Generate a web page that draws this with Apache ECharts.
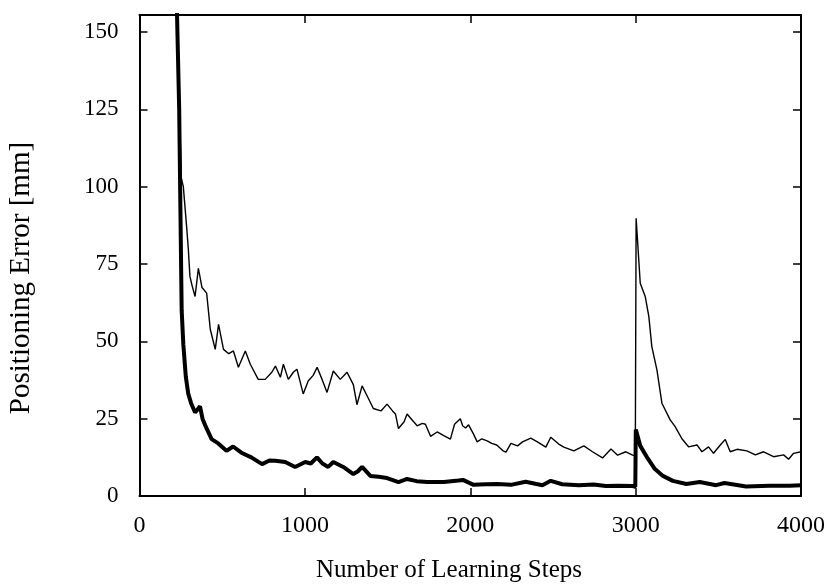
<!DOCTYPE html>
<html>
<head>
<meta charset="utf-8">
<title>Positioning Error</title>
<script src="https://cdn.jsdelivr.net/npm/echarts@6/dist/echarts.min.js"></script>
<style>
    html, body { margin: 0; padding: 0; background: #fff; }
    #chart { width: 828px; height: 585px; }
</style>
</head>
<body>
<div id="chart"></div>
<script>
    // learning steps / error [mm], thin curve
    var thinSteps = [225, 240, 252, 265, 285, 295, 305, 318, 336, 356, 378, 406, 428, 458, 478, 508, 540, 568, 598, 640, 670, 718, 760, 800, 822, 852, 870, 900, 930, 952, 990, 1020, 1050, 1074, 1104, 1134, 1172, 1214, 1255, 1293, 1315, 1346, 1376, 1414, 1460, 1497, 1530, 1548, 1566, 1600, 1618, 1650, 1679, 1710, 1729, 1760, 1800, 1840, 1880, 1905, 1940, 1954, 1972, 1990, 2020, 2042, 2070, 2102, 2130, 2160, 2198, 2216, 2246, 2286, 2316, 2366, 2406, 2457, 2487, 2535, 2566, 2626, 2687, 2739, 2800, 2851, 2891, 2941, 2982, 2998, 3003, 3028, 3058, 3080, 3098, 3129, 3159, 3209, 3239, 3280, 3320, 3371, 3401, 3441, 3471, 3512, 3542, 3572, 3613, 3673, 3724, 3774, 3834, 3895, 3925, 3955, 4000];
    var thinValues = [160, 130, 103, 100, 87, 80, 71, 68, 64.5, 73.6, 67.4, 65.6, 53.9, 47.4, 55.5, 47.4, 46, 46.9, 41.6, 46.9, 42.6, 37.7, 37.7, 40, 42, 38.4, 42.6, 37.7, 40, 41, 33, 37.2, 39, 41.6, 37.7, 33.5, 40.4, 37.7, 40, 36, 29.5, 35.6, 32.4, 28.3, 27.5, 29.7, 27.5, 26.5, 21.8, 24, 26.5, 24.5, 22.7, 23.5, 23.2, 19.3, 20.7, 19.5, 18.4, 23.2, 25, 22.7, 22, 23, 20, 17.5, 18.5, 17.8, 17, 16.5, 14.6, 14.2, 17, 16.2, 17.5, 18.7, 17.5, 15.8, 19, 16.8, 15.8, 14.6, 16.2, 14.3, 12.3, 15.2, 13.2, 14.3, 13.2, 13, 89.8, 68.8, 64.5, 58, 48.3, 40.7, 30, 24.6, 22.4, 18.5, 15.9, 16.5, 14.3, 15.9, 13.8, 16.5, 18.3, 14.3, 15.1, 14.6, 13.3, 14.3, 12.7, 13.3, 11.9, 13.8, 14.3];

    // learning steps / error [mm], thick curve
    var thickSteps = [225, 240, 245, 255, 265, 280, 295, 312, 336, 351, 366, 381, 396, 436, 476, 526, 566, 616, 676, 741, 786, 821, 881, 941, 1002, 1036, 1073, 1106, 1141, 1172, 1232, 1293, 1321, 1346, 1396, 1446, 1497, 1566, 1618, 1676, 1740, 1840, 1929, 1956, 2020, 2096, 2164, 2246, 2335, 2436, 2487, 2556, 2657, 2746, 2820, 2896, 2982, 2998, 3001, 3028, 3068, 3117, 3165, 3225, 3307, 3388, 3487, 3537, 3668, 3809, 3930, 4000];
    var thickValues = [160, 125, 103, 60, 49, 38.6, 33, 30, 27, 28, 29, 25, 23, 18.4, 17, 14.6, 16, 14, 12.5, 10.3, 11.5, 11.4, 11, 9.4, 11, 10.5, 12.5, 10.5, 9.4, 11, 9.4, 7.1, 8, 9.4, 6.5, 6.2, 5.8, 4.5, 5.5, 4.8, 4.5, 4.5, 5, 5.2, 3.6, 3.8, 3.9, 3.6, 4.6, 3.5, 4.9, 3.8, 3.5, 3.7, 3.2, 3.3, 3.2, 3, 21.5, 16.2, 12.6, 8.7, 6.5, 4.9, 3.9, 4.5, 3.5, 4.2, 3.1, 3.3, 3.3, 3.5];

    var xTicks = [0, 1000, 2000, 3000, 4000];
    var yTicks = [0, 25, 50, 75, 100, 125, 150];

    function pairs(xs, ys) {
        var out = [];
        for (var i = 0; i < xs.length; i++) {
            out.push([xs[i], ys[i]]);
        }
        return out;
    }

    var font = 'Liberation Serif';
    var myChart = echarts.init(document.getElementById('chart'));

    var frame = { show: true, onZero: false, lineStyle: { color: '#000', width: 2 } };
    var tick = { show: true, inside: true, length: 8, lineStyle: { color: '#000', width: 1.5 } };

    var options = {
        backgroundColor: '#fff',
        animation: false,
        grid: { left: 139.5, right: 27, top: 15, bottom: 89 },
        xAxis: [
            {
                type: 'value',
                min: xTicks[0],
                max: xTicks[xTicks.length - 1],
                interval: 1000,
                axisLine: frame,
                axisTick: tick,
                splitLine: { show: false },
                axisLabel: {
                    color: '#000', fontFamily: font, fontSize: 24, margin: 18,
                    formatter: function (v) { return String(v); }
                }
            },
            {
                type: 'value',
                position: 'top',
                min: xTicks[0],
                max: xTicks[xTicks.length - 1],
                interval: 1000,
                axisLine: frame,
                axisTick: tick,
                splitLine: { show: false },
                axisLabel: { show: false }
            }
        ],
        yAxis: [
            {
                type: 'value',
                min: yTicks[0],
                max: 155.5,
                interval: 25,
                axisLine: frame,
                axisTick: tick,
                splitLine: { show: false },
                axisLabel: { color: '#000', fontFamily: font, fontSize: 23, margin: 21, showMaxLabel: false }
            },
            {
                type: 'value',
                position: 'right',
                min: yTicks[0],
                max: 155.5,
                interval: 25,
                axisLine: frame,
                axisTick: tick,
                splitLine: { show: false },
                axisLabel: { show: false }
            }
        ],
        graphic: [
            {
                type: 'text',
                x: 449,
                y: 570,
                style: {
                    text: 'Number of Learning Steps',
                    fontFamily: font,
                    fontSize: 25,
                    fill: '#000',
                    align: 'center',
                    verticalAlign: 'middle'
                }
            },
            {
                type: 'text',
                x: 21,
                y: 278,
                rotation: Math.PI / 2,
                style: {
                    text: 'Positioning Error [mm]',
                    fontFamily: font,
                    fontSize: 29,
                    fill: '#000',
                    align: 'center',
                    verticalAlign: 'middle'
                }
            }
        ],
        series: [
            {
                name: 'thin',
                type: 'line',
                showSymbol: false,
                clip: true,
                data: pairs(thinSteps, thinValues),
                lineStyle: { color: '#000', width: 1.4 },
                z: 3
            },
            {
                name: 'thick',
                type: 'line',
                showSymbol: false,
                clip: true,
                data: pairs(thickSteps, thickValues),
                lineStyle: { color: '#000', width: 4 },
                z: 4
            }
        ]
    };
    myChart.setOption(options);
</script>
</body>
</html>
